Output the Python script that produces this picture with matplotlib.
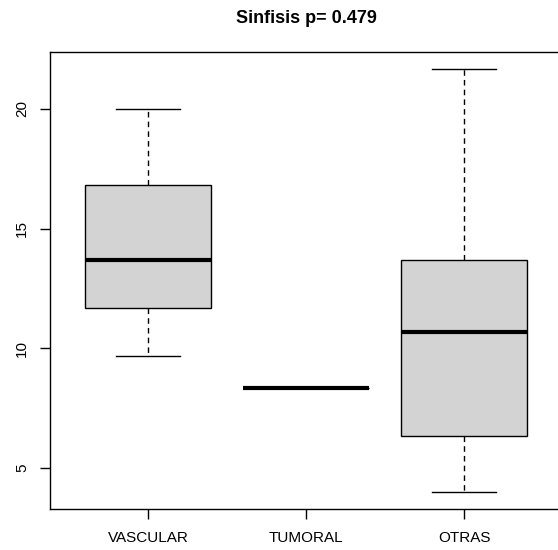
import matplotlib.pyplot as plt

plt.rcParams['font.family'] = ['Liberation Sans', 'DejaVu Sans']

groups = ["VASCULAR", "TUMORAL", "OTRAS"]
whislo = [9.67, 8.33, 4.0]
q1 = [11.67, 8.33, 6.33]
med = [13.67, 8.33, 10.67]
q3 = [16.83, 8.33, 13.67]
whishi = [20.0, 8.33, 21.67]
yticks = [5, 10, 15, 20]

stats = []
for i, g in enumerate(groups):
    stats.append({"label": g, "whislo": whislo[i], "q1": q1[i], "med": med[i],
                  "q3": q3[i], "whishi": whishi[i], "fliers": []})

fig = plt.figure(figsize=(5.58, 5.5), dpi=100)
ax = fig.add_axes([50 / 558, 1 - 509 / 550, 512 / 558, 457 / 550])

ax.bxp(stats, positions=[1, 2, 3], widths=0.8, patch_artist=True,
       boxprops=dict(facecolor="#d3d3d3", edgecolor="black", linewidth=1),
       medianprops=dict(color="black", linewidth=3, solid_capstyle="butt"),
       whiskerprops=dict(color="black", linewidth=1, linestyle=(0, (4, 3))),
       capprops=dict(color="black", linewidth=1), capwidths=0.4)

ax.set_xlim(0.38, 3.62)
ax.set_ylim(3.29, 22.37)
ax.set_yticks(yticks)
ax.set_yticklabels([str(v) for v in yticks], rotation=90, va="center")
ax.set_xticks([1, 2, 3])
ax.set_xticklabels(groups)
ax.tick_params(direction="out", length=7, width=1, labelsize=11)
ax.tick_params(axis="x", pad=9)
ax.tick_params(axis="y", pad=8)
for s in ax.spines.values():
    s.set_linewidth(1)

ax.set_title("Sinfisis p= 0.479", fontsize=13, fontweight="bold", pad=21)

fig.savefig("out.png", dpi=100)
